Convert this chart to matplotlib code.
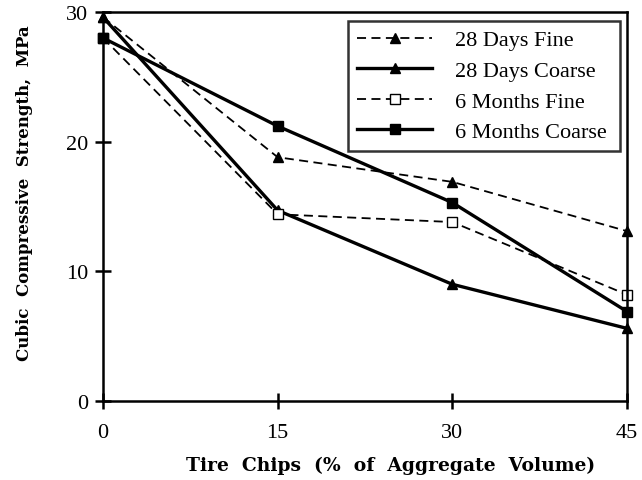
import matplotlib.pyplot as plt

# tire chip content and cube strengths (MPa)
chips = [0, 15, 30, 45]
days28_fine = [29.6, 18.8, 16.9, 13.1]
days28_coarse = [29.6, 14.7, 9.0, 5.6]
months6_fine = [28.0, 14.4, 13.8, 8.2]
months6_coarse = [28.0, 21.2, 15.3, 6.9]

plt.rcParams['font.family'] = ['Liberation Serif', 'DejaVu Serif']

fig = plt.figure(figsize=(6.42, 4.81), dpi=100)
# axes box: x 103..627 px, y 13..402 px
ax = fig.add_axes([103 / 642, 79 / 481, 524 / 642, 389 / 481])

ax.plot(chips, days28_fine, 'k--', lw=1.3, dashes=(5, 3), marker='^', ms=6.5,
        mfc='black', label='28 Days Fine', clip_on=False)
ax.plot(chips, days28_coarse, 'k-', lw=2.4, marker='^', ms=6.5,
        mfc='black', label='28 Days Coarse', clip_on=False)
ax.plot(chips, months6_fine, 'k--', lw=1.3, dashes=(5, 3), marker='s', ms=6.5,
        mfc='white', label='6 Months Fine', clip_on=False)
ax.plot(chips, months6_coarse, 'k-', lw=2.4, marker='s', ms=6.5,
        mfc='black', label='6 Months Coarse', clip_on=False)

ax.set_xlim(0, 45)
ax.set_ylim(0, 30)
ax.set_xticks([0, 15, 30, 45])
ax.set_yticks([0, 10, 20, 30])
ax.tick_params(direction='inout', length=11, width=1.8, labelsize=16)
ax.tick_params(axis='x', pad=10)
ax.tick_params(axis='y', pad=5)
for s in ax.spines.values():
    s.set_linewidth(1.8)

ax.set_xlabel('Tire  Chips  (%  of  Aggregate  Volume)', fontsize=13.5,
              fontweight='bold', family='DejaVu Serif')
ax.set_ylabel('Cubic  Compressive  Strength,  MPa', fontsize=12,
              fontweight='bold', family='DejaVu Serif')
ax.xaxis.set_label_coords(0.548, -0.142)
ax.yaxis.set_label_coords(-0.134, 0.536)

leg = ax.legend(loc='upper left', bbox_to_anchor=(0.4676, 0.5, 0.519, 0.477),
                mode='expand', fontsize=16, handlelength=3.4, handletextpad=1.0,
                borderpad=0.4, borderaxespad=0, labelspacing=0.45,
                frameon=True, fancybox=False, edgecolor='black')
leg.get_frame().set_linewidth(1.8)

fig.savefig('out.png', dpi=100)
